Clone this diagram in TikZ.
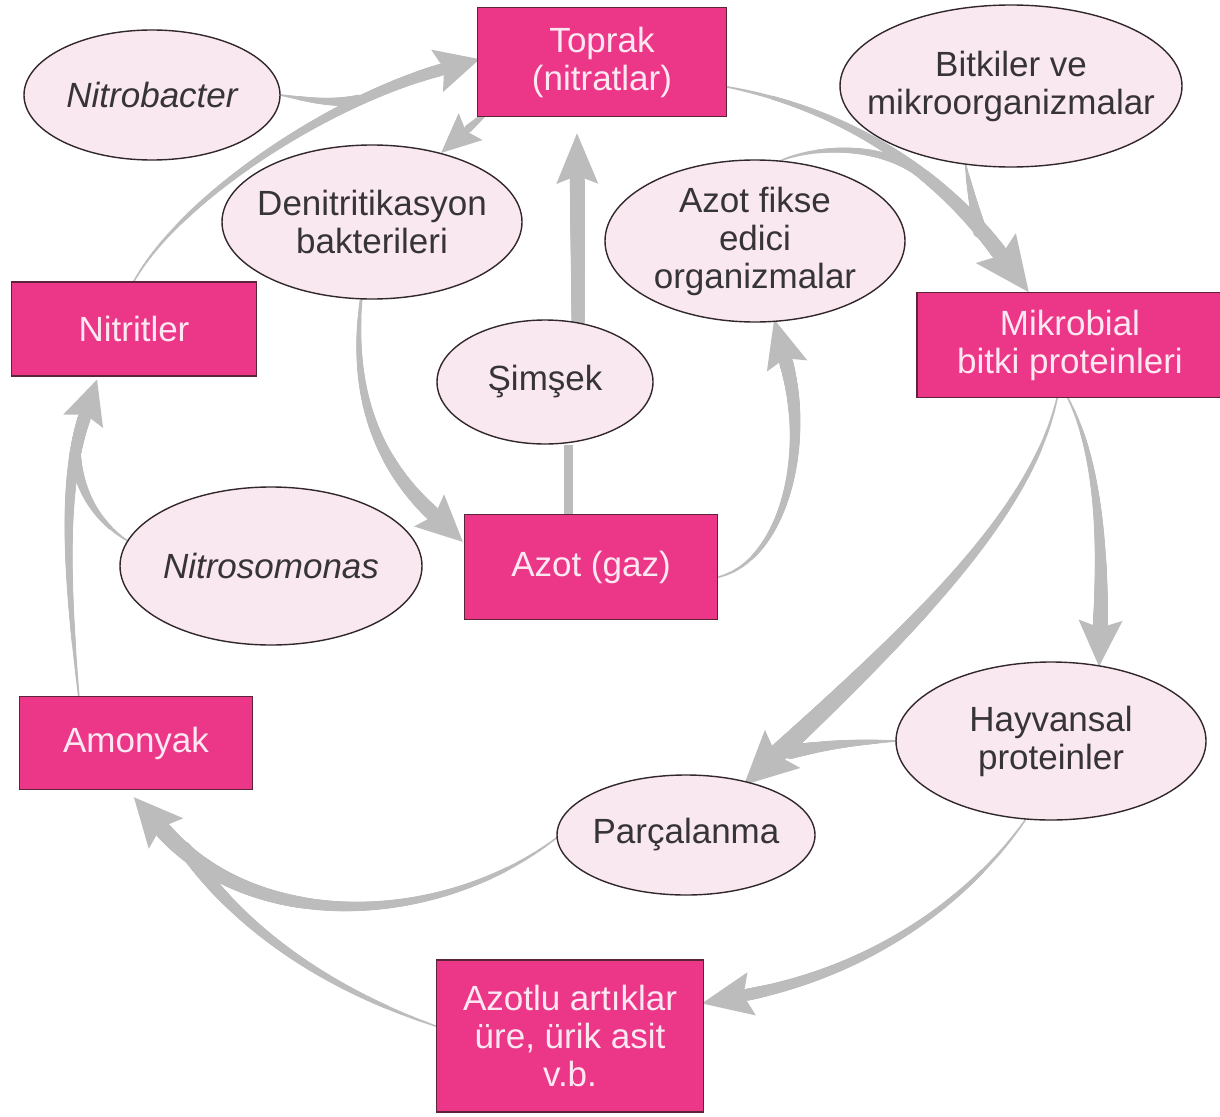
\documentclass[tikz,border=0pt]{standalone}
\usepackage{fontspec}
\setmainfont{Liberation Sans}
\usetikzlibrary{shapes.geometric,decorations.markings,calc}

\definecolor{boxpink}{RGB}{236,54,136}
\definecolor{boxedge}{RGB}{92,36,56}
\definecolor{boxtext}{RGB}{253,232,242}
\definecolor{ellfill}{RGB}{249,232,240}
\definecolor{elledge}{RGB}{50,40,44}
\definecolor{elltext}{RGB}{55,52,54}
\definecolor{arrowgray}{RGB}{188,188,188}

\pgfdeclarelayer{background}
\pgfsetlayers{background,main}

% one disc of a tapered stroke; its width grows from tw0 to tw1
\newcommand\flowdot{%
  \pgfmathsetmacro\flowr{(\twA+(\twB-\twA)*min(1,\pgfkeysvalueof{/pgf/decoration/mark info/distance from start}/(\pgfdecoratedpathlength-\hlen)))/2}%
  \fill[arrowgray] (0pt,0pt) circle[radius=\flowr pt];}
% the arrow head, its base at the mark and its tip hl further on
\newcommand\flowhead{%
  \fill[arrowgray] (-0.1*\hlen pt,-0.5*\hwid pt) -- (\hlen pt,0pt)
     -- (-0.1*\hlen pt,0.5*\hwid pt) -- (0.08*\hlen pt,0pt) -- cycle;}

\tikzset{
  tw0/.store in=\twA, tw1/.store in=\twB, hl/.store in=\hlen, hw/.store in=\hwid,
  tw0=2, tw1=12, hl=38, hw=40,
  flow/.style={postaction={decorate,decoration={markings,
      mark=between positions 0 and -\hlen pt step 1pt with {\flowdot},
      mark=at position -\hlen pt with {\flowhead}}}},
  branch/.style={hl=0, postaction={decorate,decoration={markings,
      mark=between positions 0 and 1 step 1pt with {\flowdot}}}},
  plainbar/.style={draw=arrowgray, line width=#1},
  txt/.style={font=\fontsize{35}{38}\selectfont, align=center},
  pinkbox/.style={txt, rectangle, fill=boxpink, draw=boxedge, line width=1.6pt,
      text=boxtext, inner sep=0pt},
  oval/.style={ellipse, fill=ellfill, draw=elledge, line width=1.4pt, inner sep=0pt},
  ovaltext/.style={txt, text=elltext, inner sep=0pt},
}

\begin{document}
\begin{tikzpicture}[x=1pt,y=-1pt]
\useasboundingbox (0,0) rectangle (1220,1116);
\begin{pgfonlayer}{background}
\fill[white] (0,0) rectangle (1220,1116);
\end{pgfonlayer}

% pink boxes: substances of the cycle
\node[pinkbox, minimum width=249pt, minimum height=109pt] (toprak) at (602,62) {Toprak\\(nitratlar)};
\node[pinkbox, minimum width=245pt, minimum height=94pt] (nitritler) at (134,329) {Nitritler};
\node[pinkbox, minimum width=233pt, minimum height=93pt] (amonyak) at (136,743) {Amonyak};
\node[pinkbox, minimum width=253pt, minimum height=105pt] (azot) at (591,567) {Azot (gaz)};
\node[pinkbox, minimum width=306pt, minimum height=105pt] (mikro) at (1070,345) {Mikrobial\\bitki proteinleri};
\node[pinkbox, minimum width=267pt, minimum height=152pt] (azotlu) at (570,1036) {Azotlu artıklar\\üre, ürik asit\\v.b.};

% ovals: organisms and processes (fixed size, text set on top)
\node[oval, minimum width=256pt, minimum height=130pt] (nitrobacter) at (152,95) {};
\node[ovaltext] at (nitrobacter) {\itshape Nitrobacter};
\node[oval, minimum width=300pt, minimum height=154pt] (deni) at (372,222) {};
\node[ovaltext] at (deni) {Denitritikasyon\\bakterileri};
\node[oval, minimum width=300pt, minimum height=162pt] (afo) at (755,241) {};
\node[ovaltext] at (afo) {Azot fikse\\edici\\organizmalar};
\node[oval, minimum width=342pt, minimum height=162pt] (bitki) at (1011,86) {};
\node[ovaltext] at (bitki) {Bitkiler ve\\mikroorganizmalar};
\node[oval, minimum width=216pt, minimum height=124pt] (simsek) at (545,382) {};
\node[ovaltext] at (simsek) {Şimşek};
\node[oval, minimum width=302pt, minimum height=158pt] (nitroso) at (271,566) {};
\node[ovaltext] at (nitroso) {\itshape Nitrosomonas};
\node[oval, minimum width=310pt, minimum height=158pt] (hayvan) at (1051,741) {};
\node[ovaltext] at (hayvan) {Hayvansal\\proteinler};
\node[oval, minimum width=258pt, minimum height=120pt] (parca) at (686,835) {};
\node[ovaltext] at (parca) {Parçalanma};

\begin{pgfonlayer}{background}
% nitrification: ammonia -> nitrites -> nitrates
\path[flow, tw0=2, tw1=13, hl=40, hw=42]
  ($(amonyak.north west)+(60,0)$) .. controls (65,560) and (60,450) .. ($(nitritler.south)+(-34,6)$);
\path[branch, tw0=2, tw1=12] (nitroso.170) .. controls (95,520) and (80,490) .. (75,456);
\path[flow, tw0=2, tw1=12, hl=40, hw=44]
  (nitritler.north) .. controls (185,190) and (360,80) .. (toprak.west);
\path[branch, tw0=2, tw1=11] (nitrobacter.east) .. controls (310,100) and (330,104) .. (360,100);

% denitrification
\path[flow, tw0=4, tw1=8, hl=36, hw=36]
  ($(toprak.south west)+(10,-5)$) -- (deni.45);
\path[flow, tw0=3, tw1=15, hl=42, hw=44]
  (deni.262) .. controls (350,400) and (380,480) .. ($(azot.north west)+(0,25)$);

% lightning and fixation
\draw[plainbar=9pt] ($(azot.north)+(-23,0)$) -- ($(simsek.south)+(23,0)$);
\path[flow, tw0=13, tw1=15, hl=46, hw=42]
  (simsek.61) -- ($(toprak.south)+(-25,16)$);
\path[flow, tw0=2, tw1=14, hl=44, hw=42]
  ($(azot.east)+(0,10)$) .. controls (790,560) and (820,420) .. (afo.281);

% uptake into microbial and plant proteins
\path[branch, tw0=2, tw1=10] (afo.72) .. controls (810,148) and (880,140) .. (927,178);
\path[branch, tw0=2, tw1=14] (bitki.240) .. controls (970,190) and (975,210) .. (980,232);
\path[flow, tw0=2, tw1=16, hl=50, hw=50]
  ($(toprak.east)+(0,25)$) .. controls (850,110) and (960,180) .. ($(mikro.north)+(-45,0)$);

% proteins and their breakdown
\path[flow, tw0=2, tw1=15, hl=42, hw=44]
  ($(mikro.south)+(-2,0)$) .. controls (1100,460) and (1105,560) .. (hayvan.58);
\path[branch, tw0=2, tw1=14] (hayvan.west) .. controls (860,742) and (830,744) .. (790,752);
\path[flow, tw0=2, tw1=19, hl=48, hw=52]
  ($(mikro.south)+(-13,0)$) .. controls (1030,520) and (900,640) .. (parca.41);
\path[flow, tw0=2, tw1=12, hl=46, hw=44]
  (hayvan.252) .. controls (970,900) and (860,985) .. ($(azotlu.east)+(0,-35)$);

% ammonification
\path[branch, tw0=2, tw1=14] ($(azotlu.west)+(0,-10)$) .. controls (330,990) and (240,930) .. (184,848);
\path[flow, tw0=2, tw1=17, hl=44, hw=46]
  ($(parca.west)+(0,3)$) .. controls (430,935) and (220,935) .. ($(amonyak.south)+(4,8)$);
\end{pgfonlayer}
\end{tikzpicture}
\end{document}
